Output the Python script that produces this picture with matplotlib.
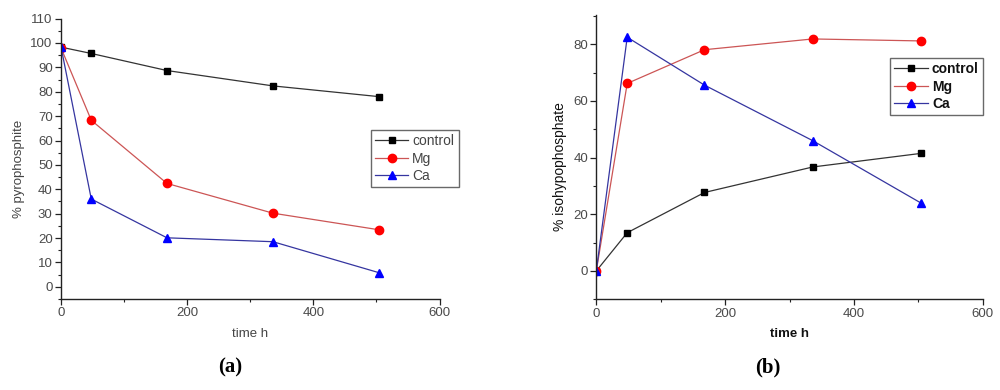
import matplotlib
matplotlib.use('Agg')
import matplotlib.pyplot as plt
from matplotlib.ticker import MultipleLocator

plt.rcParams['font.family'] = ['Liberation Sans', 'DejaVu Sans']

time_h = [0, 48, 168, 336, 504]

# (a) % pyrophosphite
pyro_control = [98.3, 95.7, 88.7, 82.4, 78.0]
pyro_mg = [98.0, 68.3, 42.4, 30.2, 23.4]
pyro_ca = [98.4, 36.0, 20.1, 18.5, 5.8]

# (b) % isohypophosphate
iso_control = [0.0, 13.5, 27.7, 36.7, 41.5]
iso_mg = [0.0, 66.2, 78.1, 81.9, 81.2]
iso_ca = [0.0, 82.5, 65.6, 46.0, 24.0]

series_names = ['control', 'Mg', 'Ca']
line_colors = ['#333333', '#cc5555', '#3535a0']
marker_colors = ['black', 'red', 'blue']
markers = ['s', 'o', '^']
marker_sizes = [5, 6, 6]

fig = plt.figure(figsize=(10, 3.9), dpi=100)
fig.patch.set_facecolor('white')
ax_a = fig.add_axes([0.061, 0.2333, 0.3785, 0.719])
ax_b = fig.add_axes([0.5963, 0.2326, 0.3864, 0.730])


def draw_panel(ax, data, ylabel, ylim, ymajor, yminor, bold, legend_box, label_x):
    for values, name, lc, mc, mk, ms in zip(data, series_names, line_colors, marker_colors, markers, marker_sizes):
        ax.plot(time_h, values, color=lc, linewidth=0.9, marker=mk, markersize=ms,
                markerfacecolor=mc, markeredgecolor=mc, label=name)
    ax.set_xlim(0, 600)
    ax.xaxis.set_major_locator(MultipleLocator(200))
    ax.xaxis.set_minor_locator(MultipleLocator(100))
    ax.yaxis.set_major_locator(MultipleLocator(ymajor))
    ax.yaxis.set_minor_locator(MultipleLocator(yminor))
    ax.set_ylim(*ylim)
    ax.set_yticks([t for t in ax.get_yticks() if 0 <= t <= ylim[1]])
    ax.set_ylim(*ylim)
    ax.spines['top'].set_visible(False)
    ax.spines['right'].set_visible(False)
    for s in ('left', 'bottom'):
        ax.spines[s].set_color('#222222')
        ax.spines[s].set_linewidth(1.0)
    ax.tick_params(which='major', direction='out', length=4, width=0.9, colors='#222222',
                   labelcolor='#4a4a4a', labelsize=9.5, pad=2)
    ax.tick_params(which='minor', direction='out', length=2.5, width=0.8, colors='#222222')
    weight = 'bold' if bold else 'normal'
    lab_color = '#111111' if bold else '#444444'
    ax.set_xlabel('time h', fontsize=9.5, fontweight=weight, color=lab_color, labelpad=6)
    ax.set_ylabel(ylabel, fontsize=10 if bold else 9.5, color=lab_color)
    ax.yaxis.set_label_coords(label_x, 0.465)
    leg = ax.legend(loc='upper left', bbox_to_anchor=legend_box, bbox_transform=fig.transFigure,
                    handlelength=2.4, handletextpad=0.3, labelspacing=0.25,
                    borderpad=0.3, borderaxespad=0, fancybox=False, frameon=True,
                    prop={'size': 10, 'weight': weight})
    frame = leg.get_frame()
    frame.set_edgecolor('#444444')
    frame.set_linewidth(1.0)
    for t in leg.get_texts():
        t.set_color(lab_color)
    return ax


draw_panel(ax_a, [pyro_control, pyro_mg, pyro_ca], '% pyrophosphite', (-5, 110), 10, 5, False,
           (0.3707, 1 - 130 / 390), -0.095)
draw_panel(ax_b, [iso_control, iso_mg, iso_ca], '% isohypophosphate', (-10, 90.5), 20, 10, True,
           (0.8903, 1 - 58 / 390), -0.076)

fig.text(0.230, 0.057, '(a)', ha='center', va='center', fontsize=15, fontweight='bold',
         family=['Liberation Serif', 'DejaVu Serif'])
fig.text(0.768, 0.057, '(b)', ha='center', va='center', fontsize=15, fontweight='bold',
         family=['Liberation Serif', 'DejaVu Serif'])

fig.savefig('out.png', dpi=100, facecolor='white')
